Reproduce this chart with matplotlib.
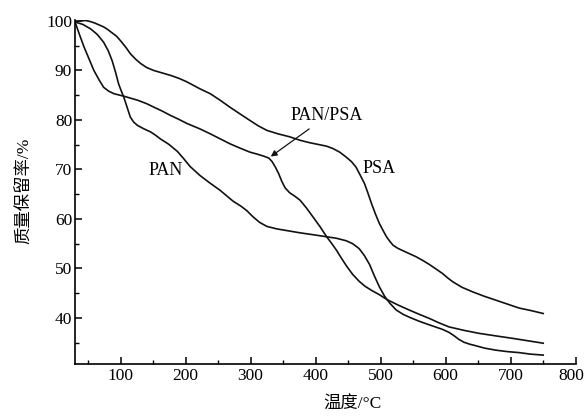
"""
TG curves: PAN, PSA and PAN/PSA mass retention vs temperature
"""

import matplotlib
matplotlib.use('Agg')
import matplotlib.pyplot as plt
from matplotlib.ticker import MultipleLocator
from matplotlib.transforms import ScaledTranslation

plt.rcParams['font.family'] = ['Liberation Serif', 'Noto Sans CJK SC']

# %% Data
psa_t = [30, 38, 46, 53, 60, 67, 74, 80, 87, 94, 100, 108, 115, 123, 131, 140,
         151, 164, 177, 190, 202, 212, 222, 238, 253, 268, 284, 299, 312, 325,
         342, 360, 376, 391, 406, 417, 427, 437, 447, 455, 462, 468, 475, 480,
         486, 492, 498, 504, 509, 514, 519, 526, 534, 544, 554, 565, 575, 585,
         595, 603, 611, 625, 641, 659, 677, 695, 713, 731, 750]
psa_w = [99.8, 100.0, 100.1, 99.9, 99.6, 99.2, 98.8, 98.3, 97.6, 96.9, 96.0,
         94.7, 93.4, 92.3, 91.4, 90.6, 90.0, 89.5, 89.0, 88.4, 87.7, 87.0, 86.3,
         85.3, 84.0, 82.6, 81.2, 79.9, 78.8, 77.9, 77.2, 76.6, 75.9, 75.4, 75.0,
         74.7, 74.2, 73.5, 72.5, 71.6, 70.5, 69.0, 67.2, 65.4, 63.1, 61.0, 59.1,
         57.6, 56.4, 55.5, 54.7, 54.1, 53.6, 53.0, 52.4, 51.6, 50.8, 49.9, 49.0,
         48.1, 47.3, 46.2, 45.3, 44.4, 43.6, 42.8, 42.0, 41.5, 40.9]

blend_t = [30, 37, 44, 52, 59, 67, 74, 82, 90, 105, 126, 140, 151, 164, 177,
           190, 202, 222, 238, 253, 268, 284, 299, 310, 320, 328, 333, 338, 343,
           348, 353, 360, 368, 376, 386, 396, 407, 417, 425, 432, 440, 448, 457,
           467, 476, 487, 498, 510, 527, 544, 560, 575, 590, 605, 628, 651, 676,
           702, 726, 750]
blend_w = [99.8, 97.2, 94.7, 92.2, 90.0, 88.1, 86.6, 85.8, 85.3, 84.8, 84.0,
           83.3, 82.6, 81.8, 80.9, 80.1, 79.3, 78.2, 77.2, 76.2, 75.2, 74.3, 73.5,
           73.1, 72.7, 72.3, 71.6, 70.5, 69.2, 67.6, 66.3, 65.3, 64.6, 63.8, 62.2,
           60.4, 58.4, 56.4, 55.0, 53.7, 52.0, 50.4, 48.8, 47.4, 46.4, 45.5, 44.7,
           43.7, 42.6, 41.6, 40.7, 39.9, 39.0, 38.2, 37.5, 36.9, 36.4, 35.9, 35.4,
           34.9]

pan_t = [30, 42, 54, 64, 74, 81, 87, 92, 97, 101, 105, 110, 115, 120, 126,
         136, 146, 154, 161, 174, 187, 197, 207, 222, 237, 253, 273, 285, 294,
         304, 314, 325, 340, 358, 376, 397, 417, 432, 447, 457, 467, 475, 483,
         490, 498, 506, 514, 524, 535, 545, 560, 575, 595, 605, 613, 620, 628,
         637, 646, 660, 677, 695, 713, 730, 750]
pan_w = [99.8, 99.3, 98.4, 97.3, 95.7, 94.0, 92.0, 89.8, 87.3, 85.9, 84.6,
         82.6, 80.6, 79.6, 78.9, 78.2, 77.6, 76.9, 76.2, 75.1, 73.7, 72.2, 70.6,
         68.8, 67.3, 65.8, 63.6, 62.6, 61.7, 60.4, 59.3, 58.5, 58.0, 57.6, 57.2,
         56.8, 56.4, 56.1, 55.6, 55.0, 54.0, 52.6, 50.8, 48.6, 46.3, 44.4, 43.0,
         41.6, 40.7, 40.1, 39.3, 38.6, 37.7, 37.1, 36.4, 35.7, 35.1, 34.7, 34.4,
         33.9, 33.5, 33.2, 33.0, 32.7, 32.5]

# %% Plot
fig = plt.figure(figsize=(5.87, 4.16), dpi=100)
ax = fig.add_axes([0.1278, 0.125, 0.853, 0.827])

for t, w in [(psa_t, psa_w), (blend_t, blend_w), (pan_t, pan_w)]:
    ax.plot(t, w, color='#111111', lw=1.2, solid_joinstyle='round')

ax.set_xlim(30, 800)
ax.set_ylim(30.7, 100.2)
ax.xaxis.set_minor_locator(MultipleLocator(50))
ax.yaxis.set_minor_locator(MultipleLocator(5))
ax.set_xticks(range(100, 801, 100))
ax.set_yticks(range(40, 101, 10))

for s in ['top', 'right']:
    ax.spines[s].set_visible(False)
for s in ['left', 'bottom']:
    ax.spines[s].set_linewidth(1.2)

ax.tick_params(which='major', direction='in', length=5, width=1.1,
               labelsize=12.5, pad=3)
ax.tick_params(which='minor', direction='in', length=3, width=1.0)
ax.tick_params(axis='y', pad=2)

# nudge the last x label so it stays inside the figure
last = ax.xaxis.get_major_ticks()[-1].label1
last.set_transform(last.get_transform() +
                   ScaledTranslation(-3 / 72, 0, fig.dpi_scale_trans))

# labels on the curves
ax.text(143, 69.8, 'PAN', fontsize=13, va='center')
ax.text(472, 70.2, 'PSA', fontsize=13, va='center')
ax.annotate('PAN/PSA', xy=(331, 72.6), xytext=(362, 80.8), fontsize=13,
            va='center',
            arrowprops=dict(arrowstyle='-|>', color='#111111', lw=0.9,
                            mutation_scale=9, shrinkA=2, shrinkB=0))

fig.text(352 / 587, 1 - 405 / 416, '温度/°C', fontsize=12.5, ha='center', va='center')
fig.text(25 / 587, 1 - 191 / 416, '质量保留率/%', fontsize=12.5, ha='center',
         va='center', rotation=90)

fig.savefig('out.png', dpi=100)
